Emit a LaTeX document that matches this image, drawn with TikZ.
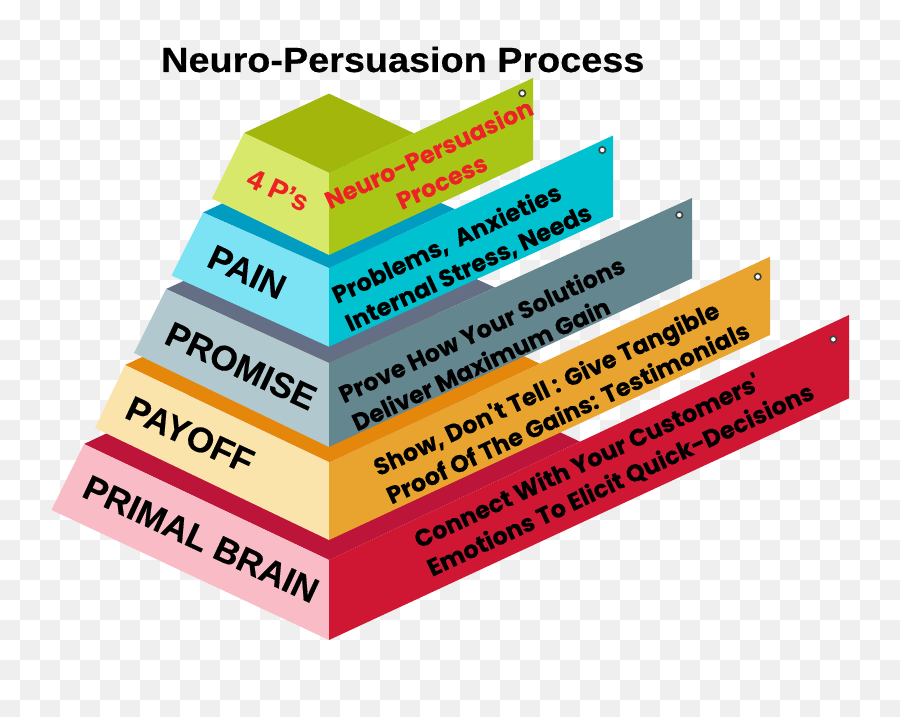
\documentclass[tikz,border=0pt]{standalone}
\usepackage{fontspec}
\setmainfont{Liberation Sans}[BoldFeatures={FakeBold=0.4}]
\newfontfamily\ribfont{Poppins}[BoldFeatures={FakeBold=0.3}]
\usepackage{xcolor}
\usepackage{tikz}

\definecolor{checker}{HTML}{EFEFEF}
\definecolor{ptred}{HTML}{EE2226}
\definecolor{faceA}{HTML}{D8E86A}
\definecolor{topA}{HTML}{A2B60C}
\definecolor{ribA}{HTML}{A9C617}
\definecolor{faceB}{HTML}{7BE3F4}
\definecolor{topB}{HTML}{009CC2}
\definecolor{ribB}{HTML}{00C1CF}
\definecolor{faceC}{HTML}{B0C8CE}
\definecolor{topC}{HTML}{646E84}
\definecolor{ribC}{HTML}{64868F}
\definecolor{faceD}{HTML}{FBE3AC}
\definecolor{topD}{HTML}{E5870B}
\definecolor{ribD}{HTML}{E9A430}
\definecolor{faceE}{HTML}{F9BCC6}
\definecolor{topE}{HTML}{BC1539}
\definecolor{ribE}{HTML}{CF1734}

\tikzset{
    lbl/.style={inner sep=0pt, rotate=-25, font=\bfseries\fontsize{35}{35}\selectfont},
    ribtxt/.style={inner sep=0pt, rotate=25, align=left, font=\ribfont\bfseries\fontsize{24}{31}\selectfont},
    grommet/.style={draw=black!75, line width=1.6pt, fill=white}
}

\begin{document}
\begin{tikzpicture}[x=1pt,y=-1pt]
    \useasboundingbox (0,0) rectangle (900,717);
    % Background
    \foreach \i in {0,...,44} {
        \foreach \j in {0,...,35} {
            \pgfmathtruncatemacro{\chk}{mod(\i+\j,2)}
            \ifnum\chk=1 \fill[checker] (\i*20,\j*20) rectangle ++(20,20); \fi
        }
    }

    % Title
    \node[anchor=base west, inner sep=0pt, xscale=1.08, font=\bfseries\fontsize{35}{35}\selectfont] (title) at (161,72) {Neuro-Persuasion Process};

    % Tiers (bottom first): top face, front face, ribbon
    \foreach \ft/\fb/\ltx/\lty/\lbx/\lby/\rx/\ry/\ex/\et/\eb/\cl in {
        560/640/84/444/51.5/510/580/441.7/849/315/398.3/E,
        462/540/125/365/95/428/540/363.8/770/256.7/335/D,
        363/447/166/289/134/353/495/287.5/692/198/278.3/C,
        268/346.7/203/212.5/171.5/275.5/455/209.2/613/135.5/216.7/B,
        172.7/255/244/133/212/198.5/414/133.3/533/78/160/A} {
        \fill[top\cl] (329,\ft) -- (\ltx,\lty) -- (\ltx+\rx-329,\lty+\ry-\ft) -- (\rx,\ry) -- cycle;
        \fill[face\cl] (329,\ft) -- (\ltx,\lty) -- (\lbx,\lby) -- (329,\fb) -- cycle;
        \fill[rib\cl] (329,\ft) -- (\ex,\et) -- (\ex,\eb) -- (329,\fb) -- cycle;
    }

    % Grommets
    \foreach \gx/\gy in {522.3/93.3, 602.3/150, 679.3/215, 757.7/276.7, 833.3/339.3}
        \draw[grommet] (\gx,\gy) circle (3.2);

    % Front labels
    \node[lbl, text=ptred, font=\bfseries\fontsize{28}{28}\selectfont] (ps) at (278,190) {4 P's};
    \node[lbl] (pain) at (247,272) {PAIN};
    \node[lbl] (promise) at (241,366) {PROMISE};
    \node[lbl] (payoff) at (190,435) {PAYOFF};
    \node[lbl] (primal) at (201,539) {PRIMAL BRAIN};

    % Ribbon texts
    \node[ribtxt, text=ptred, align=center] (ribps) at (435,167) {Neuro-Persuasion\\Process};
    \node[ribtxt] (ribpain) at (462,254) {Problems,~ Anxieties\\Internal Stress, Needs};
    \node[ribtxt] (ribpromise) at (488,343) {Prove How Your Solutions\\Deliver Maximum Gain};
    \node[ribtxt] (ribpayoff) at (561,398) {Show, Don't Tell : Give Tangible\\Proof Of The Gains: Testimonials};
    \node[ribtxt] (ribprimal) at (614,466) {Connect With Your Customers'\\Emotions To Elicit Quick-Decisions};
\end{tikzpicture}
\end{document}
